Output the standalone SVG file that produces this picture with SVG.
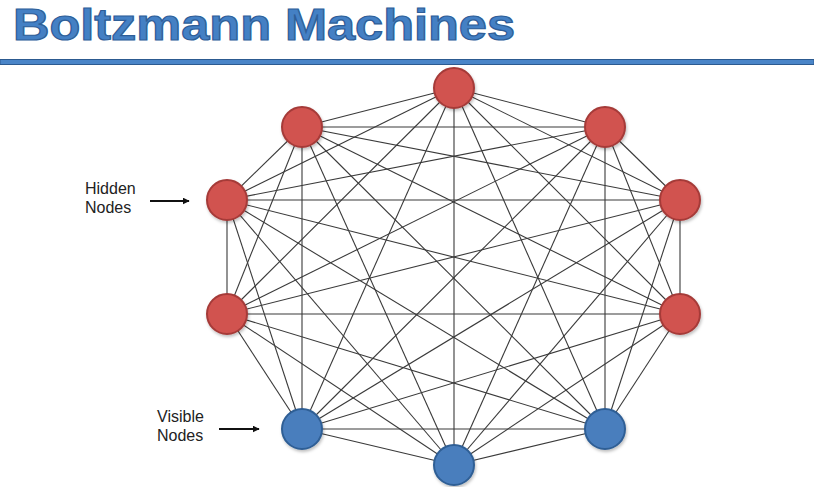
<svg xmlns="http://www.w3.org/2000/svg" width="814" height="487" viewBox="0 0 814 487">
<style>
.e{stroke:#3a3a3a;stroke-width:1.1;fill:none}
.h{fill:#D1524F;stroke:#A53B39;stroke-width:2}
.v{fill:#4A7EBD;stroke:#2F5E95;stroke-width:2}
.lbl{font-family:"Liberation Sans",Arial,sans-serif;font-size:16px;fill:#222}
.arr{stroke:#111;stroke-width:1.8;fill:none}
</style>
<defs>
<marker id="ah" viewBox="0 0 10 10" refX="9" refY="5" markerWidth="7" markerHeight="7" orient="auto" markerUnits="userSpaceOnUse">
<path d="M0,0 L10,5 L0,10 z" fill="#111"/>
</marker>
<filter id="sh" x="-30%" y="-30%" width="160%" height="160%">
<feDropShadow dx="1" dy="2" stdDeviation="1.5" flood-color="#000" flood-opacity="0.25"/>
</filter>
</defs>
<rect width="814" height="487" fill="#fff"/>
<g id="title">
<text x="13" y="40" font-family="'Liberation Sans',Arial,sans-serif" font-weight="bold" font-size="44" fill="#4480C4" stroke="#2E5E98" stroke-width="1.2" textLength="502" lengthAdjust="spacingAndGlyphs">Boltzmann Machines</text>
<rect x="0" y="59.5" width="814" height="5" fill="#4A85C8" stroke="#2C5A90" stroke-width="1"/>
</g>
<g id="connectors">
<line class="e" x1="454" y1="88" x2="302" y2="127"/>
<line class="e" x1="454" y1="88" x2="605" y2="127"/>
<line class="e" x1="454" y1="88" x2="227" y2="200"/>
<line class="e" x1="454" y1="88" x2="680" y2="200"/>
<line class="e" x1="454" y1="88" x2="227" y2="314"/>
<line class="e" x1="454" y1="88" x2="680" y2="314"/>
<line class="e" x1="454" y1="88" x2="302" y2="429"/>
<line class="e" x1="454" y1="88" x2="454" y2="465"/>
<line class="e" x1="454" y1="88" x2="605" y2="429"/>
<line class="e" x1="302" y1="127" x2="605" y2="127"/>
<line class="e" x1="302" y1="127" x2="227" y2="200"/>
<line class="e" x1="302" y1="127" x2="680" y2="200"/>
<line class="e" x1="302" y1="127" x2="227" y2="314"/>
<line class="e" x1="302" y1="127" x2="680" y2="314"/>
<line class="e" x1="302" y1="127" x2="302" y2="429"/>
<line class="e" x1="302" y1="127" x2="454" y2="465"/>
<line class="e" x1="302" y1="127" x2="605" y2="429"/>
<line class="e" x1="605" y1="127" x2="227" y2="200"/>
<line class="e" x1="605" y1="127" x2="680" y2="200"/>
<line class="e" x1="605" y1="127" x2="227" y2="314"/>
<line class="e" x1="605" y1="127" x2="680" y2="314"/>
<line class="e" x1="605" y1="127" x2="302" y2="429"/>
<line class="e" x1="605" y1="127" x2="454" y2="465"/>
<line class="e" x1="605" y1="127" x2="605" y2="429"/>
<line class="e" x1="227" y1="200" x2="680" y2="200"/>
<line class="e" x1="227" y1="200" x2="227" y2="314"/>
<line class="e" x1="227" y1="200" x2="680" y2="314"/>
<line class="e" x1="227" y1="200" x2="302" y2="429"/>
<line class="e" x1="227" y1="200" x2="454" y2="465"/>
<line class="e" x1="227" y1="200" x2="605" y2="429"/>
<line class="e" x1="680" y1="200" x2="227" y2="314"/>
<line class="e" x1="680" y1="200" x2="680" y2="314"/>
<line class="e" x1="680" y1="200" x2="302" y2="429"/>
<line class="e" x1="680" y1="200" x2="454" y2="465"/>
<line class="e" x1="680" y1="200" x2="605" y2="429"/>
<line class="e" x1="227" y1="314" x2="680" y2="314"/>
<line class="e" x1="227" y1="314" x2="302" y2="429"/>
<line class="e" x1="227" y1="314" x2="454" y2="465"/>
<line class="e" x1="227" y1="314" x2="605" y2="429"/>
<line class="e" x1="680" y1="314" x2="302" y2="429"/>
<line class="e" x1="680" y1="314" x2="454" y2="465"/>
<line class="e" x1="680" y1="314" x2="605" y2="429"/>
<line class="e" x1="302" y1="429" x2="454" y2="465"/>
<line class="e" x1="302" y1="429" x2="605" y2="429"/>
<line class="e" x1="454" y1="465" x2="605" y2="429"/>
</g>
<g id="h0"><circle class="h" cx="454" cy="88" r="20" filter="url(#sh)"/></g>
<g id="h1"><circle class="h" cx="302" cy="127" r="20" filter="url(#sh)"/></g>
<g id="h2"><circle class="h" cx="605" cy="127" r="20" filter="url(#sh)"/></g>
<g id="h3"><circle class="h" cx="227" cy="200" r="20" filter="url(#sh)"/></g>
<g id="h4"><circle class="h" cx="680" cy="200" r="20" filter="url(#sh)"/></g>
<g id="h5"><circle class="h" cx="227" cy="314" r="20" filter="url(#sh)"/></g>
<g id="h6"><circle class="h" cx="680" cy="314" r="20" filter="url(#sh)"/></g>
<g id="v0"><circle class="v" cx="302" cy="429" r="20" filter="url(#sh)"/></g>
<g id="v1"><circle class="v" cx="454" cy="465" r="20" filter="url(#sh)"/></g>
<g id="v2"><circle class="v" cx="605" cy="429" r="20" filter="url(#sh)"/></g>
<g id="hidden-label">
<text class="lbl" x="85" y="194">Hidden</text>
<text class="lbl" x="85" y="213">Nodes</text>
<line class="arr" x1="150" y1="201" x2="189" y2="201" marker-end="url(#ah)"/>
</g>
<g id="visible-label">
<text class="lbl" x="157" y="422">Visible</text>
<text class="lbl" x="157" y="441">Nodes</text>
<line class="arr" x1="219" y1="429" x2="259" y2="429" marker-end="url(#ah)"/>
</g>
</svg>
